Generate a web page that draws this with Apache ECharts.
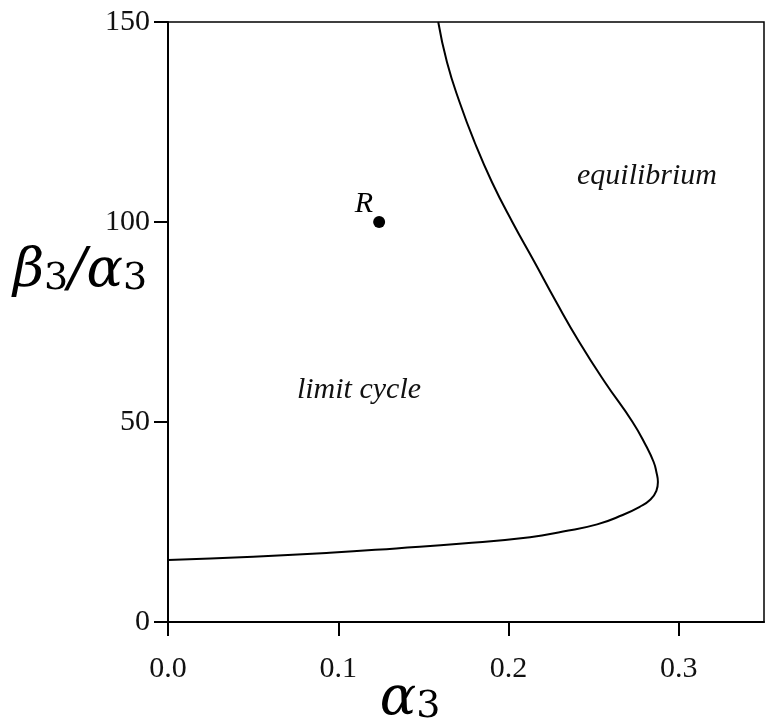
<!DOCTYPE html>
<html>
<head>
<meta charset="utf-8">
<script src="https://cdn.jsdelivr.net/npm/echarts@6/dist/echarts.min.js"></script>
<style>
  html, body { margin: 0; padding: 0; background: #fff; }
  #chart { width: 768px; height: 723px; }
</style>
</head>
<body>
<div id="chart"></div>
<script>
// boundary curve (alpha3, beta3/alpha3)
var alpha3 = [0, 0.05, 0.095, 0.134, 0.173, 0.2126, 0.232, 0.252, 0.267, 0.277, 0.283, 0.2868, 0.2877, 0.2868, 0.2852, 0.2808, 0.2728, 0.2565, 0.2415, 0.228, 0.2152, 0.2022, 0.1902, 0.18, 0.1712, 0.1638, 0.1587];
var ratio  = [15.5, 16.3, 17.3, 18.4, 19.6, 21.2, 22.6, 24.4, 26.75, 28.8, 30.5, 32.8, 35, 37.5, 40, 44, 50, 60, 70, 80, 90, 100, 110, 120, 130, 140, 150];

// point R
var pointR = [0.124, 100];

var xTicks = [0, 0.1, 0.2, 0.3];
var yTicks = [0, 50, 100, 150];

var curve = alpha3.map(function (a, i) { return [a, ratio[i]]; });

var serif = '"Liberation Serif", "DejaVu Serif", serif';
var math = '"DejaVu Serif", serif';

var chart = echarts.init(document.getElementById('chart'));

var option = {
  backgroundColor: '#fff',
  animation: false,
  grid: {
    left: 168, right: 4, top: 22, bottom: 101,
    show: true, borderColor: '#000', borderWidth: 1.5,
    containLabel: false
  },
  xAxis: {
    type: 'value', min: 0, max: 0.35,
    axisLine: { show: true, lineStyle: { color: '#000', width: 2 } },
    axisTick: { show: true, length: 14, lineStyle: { color: '#000', width: 2 }, customValues: xTicks },
    axisLabel: {
      color: '#111', fontFamily: serif, fontSize: 30, margin: 32,
      customValues: xTicks,
      formatter: function (v) { return v.toFixed(1); }
    },
    splitLine: { show: false }
  },
  yAxis: {
    type: 'value', min: 0, max: 150,
    axisLine: { show: true, lineStyle: { color: '#000', width: 2 } },
    axisTick: { show: true, length: 14, lineStyle: { color: '#000', width: 2 }, customValues: yTicks },
    axisLabel: { color: '#111', fontFamily: serif, fontSize: 30, margin: 18, customValues: yTicks },
    splitLine: { show: false }
  },
  series: [
    {
      type: 'line',
      data: curve,
      smooth: 0.5,
      showSymbol: false,
      lineStyle: { color: '#000', width: 2 }
    },
    {
      type: 'scatter',
      data: [pointR],
      symbolSize: 12,
      itemStyle: { color: '#000', opacity: 1 },
      label: {
        show: true, formatter: 'R', position: 'left', distance: 0, offset: [0, -18],
        color: '#000', fontFamily: serif, fontStyle: 'italic', fontSize: 30
      }
    }
  ],
  graphic: [
    {
      type: 'text',
      style: {
        x: 647, y: 176, text: 'equilibrium', textAlign: 'center', textVerticalAlign: 'middle',
        font: 'italic 30px ' + serif, fill: '#111'
      }
    },
    {
      type: 'text',
      style: {
        x: 359, y: 390, text: 'limit cycle', textAlign: 'center', textVerticalAlign: 'middle',
        font: 'italic 30px ' + serif, fill: '#111'
      }
    },
    {
      type: 'text',
      style: {
        x: 80, y: 272, textAlign: 'center', textVerticalAlign: 'middle',
        text: '{g|β}{s|3}{g|/α}{s|3}',
        rich: {
          g: { fontFamily: math, fontStyle: 'italic', fontSize: 54, fill: '#000' },
          s: { fontFamily: math, fontSize: 38, fill: '#000', padding: [14, 0, 0, 0] }
        }
      }
    },
    {
      type: 'text',
      style: {
        x: 410, y: 700, textAlign: 'center', textVerticalAlign: 'middle',
        text: '{g|α}{s|3}',
        rich: {
          g: { fontFamily: math, fontStyle: 'italic', fontSize: 54, fill: '#000' },
          s: { fontFamily: math, fontSize: 38, fill: '#000', padding: [14, 0, 0, 0] }
        }
      }
    }
  ]
};

chart.setOption(option);
</script>
</body>
</html>
